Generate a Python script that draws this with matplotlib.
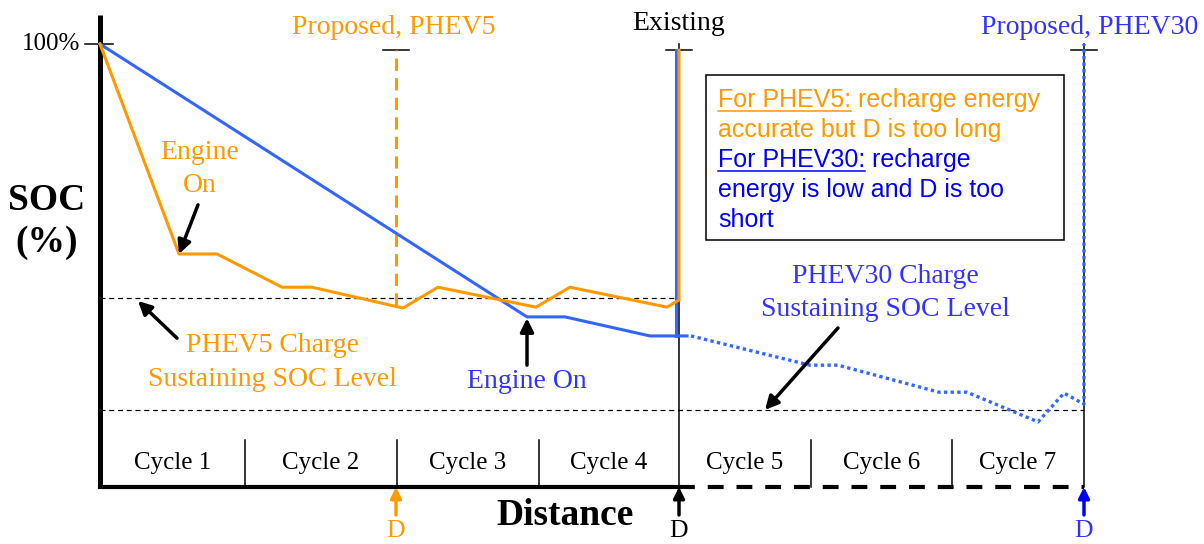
import matplotlib
matplotlib.use("Agg")
import matplotlib.pyplot as plt
from matplotlib.patches import Rectangle

# distance in arbitrary units (0 = start), SOC in percent
phev5_dist = [0, 79, 117, 182, 212, 303, 338, 436, 470, 567, 579, 579]
phev5_soc = [100, 52.6, 52.6, 45.1, 45.1, 40.4, 45.1, 40.6, 45.1, 40.6, 42.2, 98.6]

phev30_dist = [0, 427, 465, 550, 587]
phev30_soc = [100, 38.4, 38.4, 34.1, 34.1]

phev30_ext_dist = [591, 710, 738, 839, 867, 938, 964, 984, 984]
phev30_ext_soc = [34.1, 27.5, 27.5, 21.4, 21.4, 14.7, 21.2, 18.7, 100]

cycle_bounds = [0, 145, 297, 439, 579, 711, 852, 984]
cycle_labels = ["Cycle 1", "Cycle 2", "Cycle 3", "Cycle 4", "Cycle 5", "Cycle 6", "Cycle 7"]

d_phev5 = 296
d_existing = 579
d_phev30 = 984
cs_level_phev5 = 42.7
cs_level_phev30 = 17.4

ORANGE = "#FF9900"
BLUE = "#3366FF"
BLUE_TXT = "#3333FF"
BOX_BLUE = "#0000FF"
SERIF = "Liberation Serif"
SANS = "Liberation Sans"
FS = 20

fig = plt.figure(figsize=(12.04, 5.44), dpi=100)
ax = fig.add_axes([0, 0, 1, 1])
ax.set_xlim(-100, 1104)
ax.set_ylim(-57 / 4.43, 487 / 4.43)
ax.axis("off")

# axes
ax.plot([0, 0], [0, 106.5], color="k", lw=3.6, solid_capstyle="butt")
ax.plot([-15, 13], [100, 100], color="k", lw=1.1)
ax.plot([0, d_existing], [0, 0], color="k", lw=3, solid_capstyle="projecting")
ax.plot([d_existing, d_phev30], [0, 0], color="k", lw=3, dashes=(3.8, 3.1))

# cycle separators and labels
for b in cycle_bounds[1:-1]:
    if b == d_existing:
        continue
    ax.plot([b, b], [0, 10.6], color="k", lw=1.1)
for i, lab in enumerate(cycle_labels):
    mid = (cycle_bounds[i] + cycle_bounds[i + 1]) / 2
    ax.text(mid, 5.4, lab, ha="center", va="center", fontsize=18, family=SERIF)

# charge sustaining levels
ax.plot([0, d_existing], [cs_level_phev5, cs_level_phev5], color="k", lw=0.9, dashes=(4, 3))
ax.plot([0, d_phev30], [cs_level_phev30, cs_level_phev30], color="k", lw=0.9, dashes=(4, 3))

# markers for D
for d in (d_existing, d_phev30):
    ax.plot([d, d], [0, 100], color="k", lw=1.1)
for d in (d_phev5, d_existing, d_phev30):
    ax.plot([d - 13, d + 13], [98.6, 98.6], color="k", lw=1.1)
ax.plot([d_phev5, d_phev5], [41.0, 98.6], color=ORANGE, lw=2.2, dashes=(4, 2.4))

# SOC curves
ax.plot([576, 576], [34.1, 98.6], color=BLUE, lw=2.2)
ax.plot(phev30_dist, phev30_soc, color=BLUE, lw=2.2)
ax.plot(phev30_ext_dist, phev30_ext_soc, color=BLUE, lw=2.4, dashes=(1, 1))
ax.plot(phev5_dist, phev5_soc, color=ORANGE, lw=2.2)

# titles above the D markers
ax.text(d_phev5 - 2, 103.8, "Proposed, PHEV5", ha="center", va="center", fontsize=FS,
        family=SERIF, color=ORANGE)
ax.text(d_existing, 104.7, "Existing", ha="center", va="center", fontsize=FS, family=SERIF)
ax.text(d_phev30 + 6, 103.8, "Proposed, PHEV30", ha="center", va="center", fontsize=FS,
        family=SERIF, color=BLUE_TXT)

ax.text(-20, 100, "100%", ha="right", va="center", fontsize=18, family=SERIF)
ax.text(-53, 60, "SOC\n(%)", ha="center", va="center", fontsize=27, family=SERIF,
        weight="bold", linespacing=1.25)
ax.text(465, -6.5, "Distance", ha="center", va="center", fontsize=27, family=SERIF,
        weight="bold")

# D arrows below axis
for d, c in ((d_phev5, ORANGE), (d_existing, "k"), (d_phev30, BOX_BLUE)):
    ax.annotate("", xy=(d, 0), xytext=(d, -6.3),
                arrowprops=dict(arrowstyle="-|>", color=c, lw=2.5, mutation_scale=16,
                                shrinkA=0, shrinkB=0))
    ax.text(d, -9.9, "D", ha="center", va="center", fontsize=18.5, family=SERIF,
            color=BLUE_TXT if c == BOX_BLUE else c)

# annotations
arrow = dict(arrowstyle="-|>", color="k", lw=2.5, mutation_scale=20, shrinkA=0, shrinkB=0)
ax.text(100, 71.8, "Engine\nOn", ha="center", va="center", fontsize=FS, family=SERIF,
        color=ORANGE, linespacing=1.39)
ax.annotate("", xy=(79, 52.6), xytext=(98, 63.7), arrowprops=arrow)

ax.text(427, 23.9, "Engine On", ha="center", va="center", fontsize=FS, family=SERIF,
        color=BLUE_TXT)
ax.annotate("", xy=(427, 38.1), xytext=(427, 27.5), arrowprops=arrow)

ax.text(172, 28.2, "PHEV5 Charge\nSustaining SOC Level", ha="center", va="center",
        fontsize=FS, family=SERIF, color=ORANGE, linespacing=1.47)
ax.annotate("", xy=(38, 42.0), xytext=(77, 33.6), arrowprops=arrow)

ax.text(785, 43.8, "PHEV30 Charge\nSustaining SOC Level", ha="center", va="center",
        fontsize=FS, family=SERIF, color=BLUE_TXT, linespacing=1.47)
ax.annotate("", xy=(665, 17.4), xytext=(738, 35.9), arrowprops=arrow)

# note box
ax.add_patch(Rectangle((606, 55.8), 358, 37.2, fill=False, edgecolor="k", lw=1.1))
x0 = 618
box_lines = [
    ("For PHEV5:", " recharge energy", ORANGE, 85.8),
    (None, "accurate but D is too long", ORANGE, 79.0),
    ("For PHEV30:", " recharge", BOX_BLUE, 72.2),
    (None, "energy is low and D is too", BOX_BLUE, 65.5),
    (None, "short", BOX_BLUE, 58.7),
]
heads = []
for head, rest, c, y in box_lines:
    if head is None:
        ax.text(x0, y, rest, ha="left", va="baseline", fontsize=18, family=SANS, color=c)
    else:
        t1 = ax.text(x0, y, head, ha="left", va="baseline", fontsize=18, family=SANS, color=c)
        ax.annotate(rest, xy=(1, 0), xycoords=t1, ha="left", va="bottom", fontsize=18,
                    family=SANS, color=c)
        heads.append((t1, y, c))

fig.canvas.draw()
inv = ax.transData.inverted()
for t1, y, c in heads:
    bb = t1.get_window_extent()
    x_end = inv.transform((bb.x1, bb.y0))[0]
    ax.plot([x0, x_end], [y - 0.9, y - 0.9], color=c, lw=1.1)

fig.savefig("out.png", dpi=100)
